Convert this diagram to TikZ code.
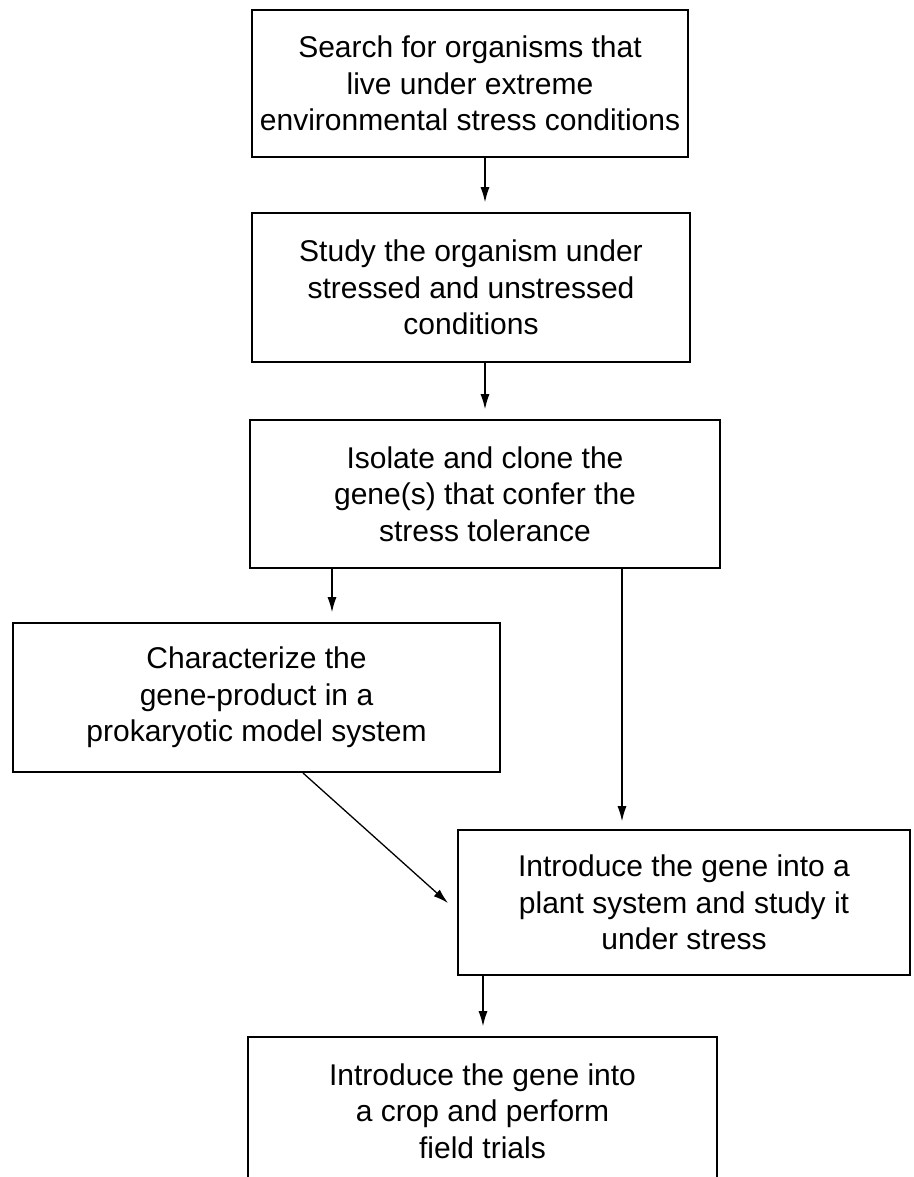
\documentclass[tikz,border=0pt]{standalone}
\usepackage{fontspec}
\setmainfont{Liberation Sans}
\usetikzlibrary{arrows.meta}
\begin{document}
\begin{tikzpicture}[x=1pt,y=1pt,
  stepbox/.style={draw, line width=1.6pt, align=center, inner sep=0pt,
    font=\fontsize{30}{36.5}\selectfont},
  arr/.style={line width=1.3pt, -{Latex[length=15pt,width=9pt]}, shorten >=10pt}]
\useasboundingbox (0,0) rectangle (913,-1177);
\begin{scope}
\clip (0,0) rectangle (913,-1177);
\node[stepbox, minimum width=436pt, minimum height=147pt] (b1) at (470,-83.5) {Search for organisms that\\live under extreme\\environmental stress conditions};
\node[stepbox, minimum width=438pt, minimum height=149pt] (b2) at (471,-287.5) {Study the organism under\\stressed and unstressed\\conditions};
\node[stepbox, minimum width=470pt, minimum height=148pt] (b3) at (485,-494) {Isolate and clone the\\gene(s) that confer the\\stress tolerance};
\node[stepbox, minimum width=487pt, minimum height=149pt] (b4) at (256.5,-697.5) {Characterize the\\gene-product in a\\prokaryotic model system};
\node[stepbox, minimum width=452pt, minimum height=145pt] (b5) at (684,-902.5) {Introduce the gene into a\\plant system and study it\\under stress};
\node[stepbox, minimum width=469pt, minimum height=148pt] (b6) at (482.5,-1111) {Introduce the gene into\\a crop and perform\\field trials};
\end{scope}
\coordinate (x1) at (485,0);
\coordinate (x3) at (332,0);
\coordinate (x4) at (622,0);
\coordinate (x6) at (483,0);
\coordinate (d1) at (303,-773);
\coordinate (d2) at (448,-903);
\draw[arr] (b1.south -| x1) -- (b2.north -| x1);
\draw[arr] (b2.south -| x1) -- (b3.north -| x1);
\draw[arr] (b3.south -| x3) -- (b4.north -| x3);
\draw[arr, shorten >=8pt] (b3.south -| x4) -- (b5.north -| x4);
\draw[arr, shorten >=0pt] (d1) -- (d2);
\draw[arr] (b5.south -| x6) -- (b6.north -| x6);
\end{tikzpicture}
\end{document}
